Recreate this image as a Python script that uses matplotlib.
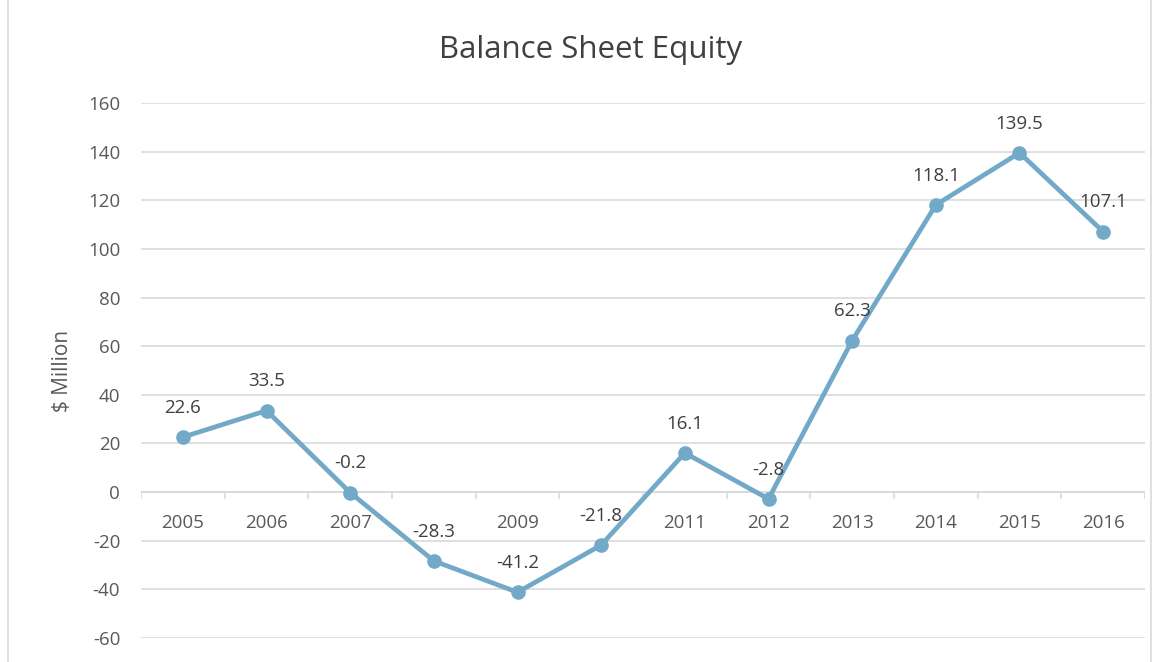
import matplotlib
matplotlib.use("Agg")
import matplotlib.pyplot as plt

years = ["2005", "2006", "2007", "2008", "2009", "2010",
         "2011", "2012", "2013", "2014", "2015", "2016"]
# the 2008 and 2010 category labels are hidden under data labels in the reference
shown_year_labels = ["2005", "2006", "2007", "", "2009", "",
                     "2011", "2012", "2013", "2014", "2015", "2016"]
equity = [22.6, 33.5, -0.2, -28.3, -41.2, -21.8, 16.1, -2.8, 62.3, 118.1, 139.5, 107.1]
data_labels = ["22.6", "33.5", "-0.2", "-28.3", "-41.2", "-21.8",
               "16.1", "-2.8", "62.3", "118.1", "139.5", "107.1"]
y_ticks = [-60, -40, -20, 0, 20, 40, 60, 80, 100, 120, 140, 160]

plt.rcParams['font.family'] = ['Open Sans', 'DejaVu Sans']
plt.rcParams['axes.unicode_minus'] = False

W, H = 1162, 662
fig = plt.figure(figsize=(W / 100, H / 100), dpi=100)
ax = fig.add_axes([141 / W, 1 - 638 / H, (1145 - 141) / W, (638 - 103) / H])

line_col = "#72A9C8"
x = list(range(len(years)))
ax.plot(x, equity, color=line_col, lw=3.4, marker="o", ms=9.5,
        markerfacecolor=line_col, markeredgecolor=line_col, zorder=4)

for xi, yi, lab in zip(x, equity, data_labels):
    ax.annotate(lab, (xi, yi), xytext=(0, 21), textcoords="offset points",
                ha="center", va="center", fontsize=13.5, color="#404040",
                zorder=6)

ax.set_xlim(-0.5, len(years) - 0.5)
ax.set_ylim(-60, 160)
ax.set_yticks(y_ticks)
ax.yaxis.grid(True, color="#D9D9D9", lw=1.2)
ax.set_axisbelow(True)
for s in ax.spines.values():
    s.set_visible(False)
ax.tick_params(axis="y", length=0, labelsize=13.5, labelcolor="#595959", pad=15)

# category axis drawn at y=0
ax.set_xticks(x)
ax.set_xticklabels([])
ax.tick_params(axis="x", length=0)
ax.axhline(0, color="#D9D9D9", lw=1.2, zorder=1)
for xi in [i + 0.5 for i in range(-1, len(years))]:
    ax.plot([xi, xi], [0, -2.5], color="#D9D9D9", lw=1.2, zorder=1)
for xi, lab in zip(x, shown_year_labels):
    ax.annotate(lab, (xi, 0), xytext=(0, -22), textcoords="offset points",
                ha="center", va="center", fontsize=13.5, color="#595959", zorder=3)

ax.set_ylabel("$ Million", fontsize=15, color="#595959", labelpad=11)
fig.text(591 / W, 1 - 50 / H, "Balance Sheet Equity", ha="center", va="center",
         fontsize=22.5, color="#404040")

# chart-area border
fig.patches.append(plt.Rectangle((8 / W, -0.01), (1151 - 8) / W, 1.05,
                                 transform=fig.transFigure, fill=False,
                                 ec="#D9D9D9", lw=1.2))

fig.savefig("out.png", dpi=100, facecolor="white")
